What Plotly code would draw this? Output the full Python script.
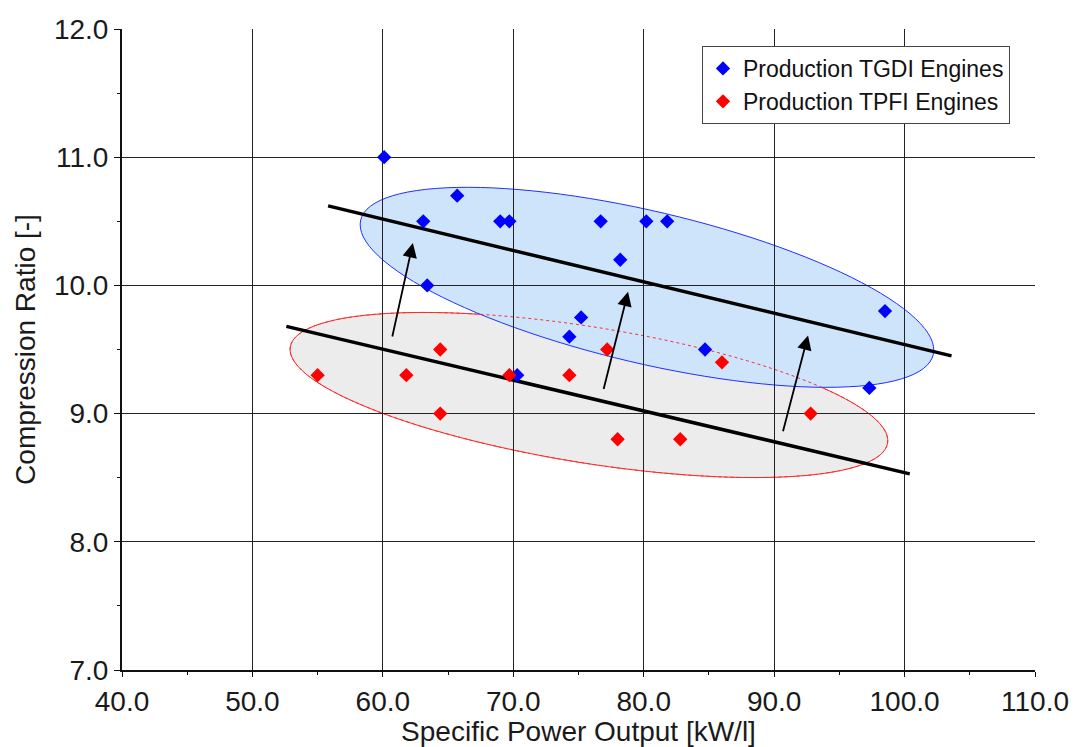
import numpy as np
import plotly.graph_objects as go

# ---- data ----
tgdi_x = [60.1, 63.1, 65.7, 69.0, 69.7, 63.4, 76.7, 78.2, 80.2, 81.8, 75.2, 74.3, 70.3, 84.7, 98.5, 97.3]
tgdi_y = [11.0, 10.5, 10.7, 10.5, 10.5, 10.0, 10.5, 10.2, 10.5, 10.5, 9.75, 9.6, 9.3, 9.5, 9.8, 9.2]

tpfi_x = [55.0, 61.8, 64.4, 64.4, 69.7, 74.3, 77.2, 78.0, 82.8, 86.0, 92.8]
tpfi_y = [9.3, 9.3, 9.5, 9.0, 9.3, 9.3, 9.5, 8.8, 8.8, 9.4, 9.0]

trend_tgdi_x = [55.8, 103.6]
trend_tgdi_y = [10.62, 9.45]
trend_tpfi_x = [52.6, 100.4]
trend_tpfi_y = [9.68, 8.53]

arrow_start_x = [60.7, 76.9, 90.65]
arrow_start_y = [9.59, 9.18, 8.85]
arrow_end_x = [62.3, 78.8, 92.6]
arrow_end_y = [10.33, 9.95, 9.61]

# ellipse ends (data units) and semi-minor axis (pixels)
tgdi_ell_ends = [(58.3, 10.51), (102.2, 9.46)]
tpfi_ell_ends = [(52.9, 9.52), (98.7, 8.77)]
tgdi_ell_minor_px = 76
tpfi_ell_minor_px = 68

x_ticks = [40, 50, 60, 70, 80, 90, 100, 110]
y_ticks = [7, 8, 9, 10, 11, 12]

# ---- layout geometry (page body has an 8px margin) ----
OFF = 8
W, H = 1077 - OFF, 747 - OFF
ML, MR, MT, MB = 122 - OFF, 42, 29 - OFF, 77
PW, PH = W - ML - MR, H - MT - MB
XR, YR = [40, 110], [7, 12]
SX = PW / (XR[1] - XR[0])
SY = PH / (YR[1] - YR[0])


def ellipse_path(ends, b_px, n=120):
    (x1, y1), (x2, y2) = ends
    X1, Y1, X2, Y2 = x1 * SX, y1 * SY, x2 * SX, y2 * SY
    cx, cy = (X1 + X2) / 2, (Y1 + Y2) / 2
    a = np.hypot(X2 - X1, Y2 - Y1) / 2
    th = np.arctan2(Y2 - Y1, X2 - X1)
    t = np.linspace(0, 2 * np.pi, n, endpoint=False)
    u, v = a * np.cos(t), b_px * np.sin(t)
    X = cx + u * np.cos(th) - v * np.sin(th)
    Y = cy + u * np.sin(th) + v * np.cos(th)
    xs, ys = X / SX, Y / SY
    pts = [f"{xx:.4f},{yy:.4f}" for xx, yy in zip(xs, ys)]
    return "M " + " L ".join(pts) + " Z"


red_path = ellipse_path(tpfi_ell_ends, tpfi_ell_minor_px)
blue_path = ellipse_path(tgdi_ell_ends, tgdi_ell_minor_px)

fig = go.Figure()

fig.add_trace(go.Scatter(x=trend_tgdi_x, y=trend_tgdi_y, mode="lines",
                         line=dict(color="black", width=3.5), showlegend=False, hoverinfo="skip"))
fig.add_trace(go.Scatter(x=trend_tpfi_x, y=trend_tpfi_y, mode="lines",
                         line=dict(color="black", width=3.5), showlegend=False, hoverinfo="skip"))

fig.add_trace(go.Scatter(x=tgdi_x, y=tgdi_y, mode="markers", name="Production TGDI Engines",
                         marker=dict(symbol="diamond", size=11, color="#0000ff")))
fig.add_trace(go.Scatter(x=tpfi_x, y=tpfi_y, mode="markers", name="Production TPFI Engines",
                         marker=dict(symbol="diamond", size=11, color="#ff0000")))

shapes = [
    dict(type="path", path=red_path, xref="x", yref="y", layer="below",
         fillcolor="#ececec", line=dict(color="#ff2020", width=1)),
    dict(type="path", path=blue_path, xref="x", yref="y", layer="below",
         fillcolor="#cde4fb", line=dict(color="#2030ff", width=1)),
    dict(type="path", path=red_path, xref="x", yref="y", layer="below",
         fillcolor="rgba(0,0,0,0)", line=dict(color="#ff3030", width=1, dash="dot")),
]

annotations = []
for sx_, sy_, ex_, ey_ in zip(arrow_start_x, arrow_start_y, arrow_end_x, arrow_end_y):
    annotations.append(dict(x=ex_, y=ey_, ax=sx_, ay=sy_, xref="x", yref="y",
                            axref="x", ayref="y", text="", showarrow=True,
                            arrowhead=2, arrowsize=1.6, arrowwidth=1.8, arrowcolor="black"))

font_family = "Liberation Sans, Arial, sans-serif"

fig.update_layout(
    width=W, height=H,
    margin=dict(l=ML, r=MR, t=MT, b=MB, autoexpand=False),
    paper_bgcolor="white", plot_bgcolor="white",
    font=dict(family=font_family, color="#1a1a1a"),
    shapes=shapes, annotations=annotations,
    legend=dict(x=(702 - 122) / PW, y=1 - (46 - 29) / PH, xanchor="left", yanchor="top",
                bgcolor="white", bordercolor="#444", borderwidth=1,
                font=dict(size=23, family=font_family, color="#111"),
                itemwidth=30, tracegroupgap=0),
    xaxis=dict(range=XR, tickvals=x_ticks, tickformat=".1f", automargin=False,
               showgrid=True, gridcolor="#222", gridwidth=1,
               showline=True, linecolor="#111", linewidth=2,
               ticks="outside", ticklen=5, tickcolor="#111",
               minor=dict(ticks="outside", ticklen=3, dtick=5, tickcolor="#111", showgrid=False),
               tickfont=dict(size=28), zeroline=False,
               title=dict(text="Specific Power Output [kW/l]", font=dict(size=28), standoff=8)),
    yaxis=dict(range=YR, tickvals=y_ticks, tickformat=".1f", automargin=False,
               showgrid=True, gridcolor="#222", gridwidth=1,
               showline=True, linecolor="#111", linewidth=2,
               ticks="outside", ticklen=6, tickcolor="#111",
               minor=dict(ticks="outside", ticklen=3, dtick=0.5, tickcolor="#111", showgrid=False),
               tickfont=dict(size=28), zeroline=False,
               title=dict(text="Compression Ratio [-]", font=dict(size=28), standoff=10)),
)

fig.write_html("out.html")
